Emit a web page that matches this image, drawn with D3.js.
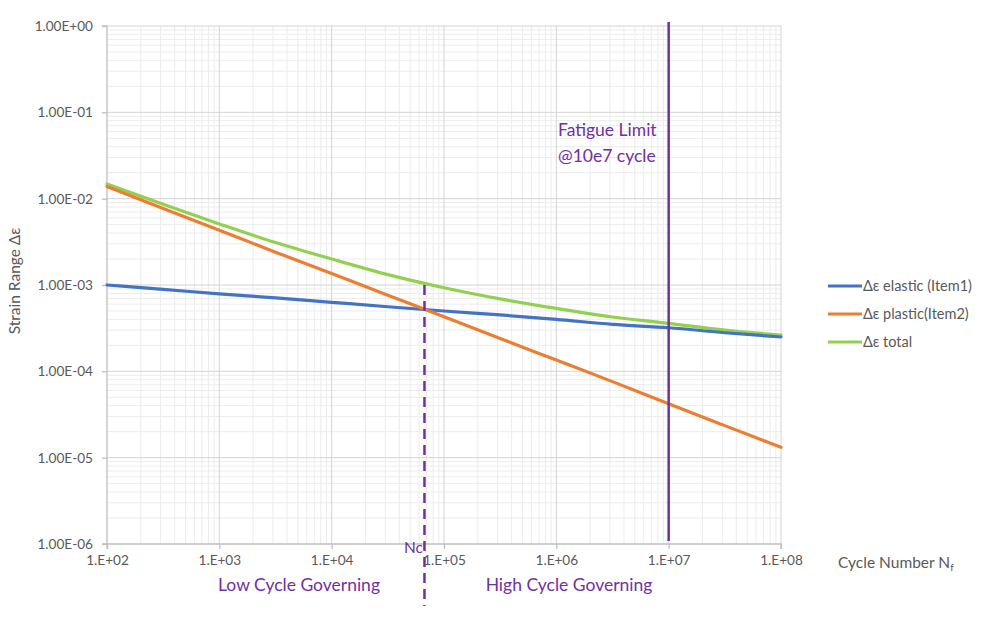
<!DOCTYPE html>
<html><head><meta charset="utf-8">
<script src="https://cdnjs.cloudflare.com/ajax/libs/d3/7.8.5/d3.min.js"></script>
<style>body{margin:0;background:#fff}svg{display:block}</style>
</head><body>
<svg id="c" width="992" height="618"></svg>
<script>
// Data
const cycles = [1e2, 3.16e2, 1e3, 3.16e3, 1e4, 3.16e4, 1e5, 3.16e5, 1e6, 3.16e6, 1e7, 3.16e7, 1e8];
const elastic = [1.0e-3, 8.9e-4, 7.9e-4, 7.1e-4, 6.3e-4, 5.6e-4, 5.0e-4, 4.5e-4, 4.0e-4, 3.5e-4, 3.2e-4, 2.8e-4, 2.5e-4];
const plastic = [1.38e-2, 7.7e-3, 4.3e-3, 2.4e-3, 1.36e-3, 7.6e-4, 4.3e-4, 2.4e-4, 1.35e-4, 7.6e-5, 4.2e-5, 2.35e-5, 1.32e-5];
const total = [1.48e-2, 8.6e-3, 5.1e-3, 3.1e-3, 2.0e-3, 1.32e-3, 9.3e-4, 6.9e-4, 5.35e-4, 4.26e-4, 3.6e-4, 3.0e-4, 2.63e-4];
const seriesNames = ["Δε elastic (Item1)", "Δε plastic(Item2)", "Δε total"];
const seriesColors = ["#4472C4", "#ED7D31", "#92D050"];
const xTicks = [1e2, 1e3, 1e4, 1e5, 1e6, 1e7, 1e8];
const xTickLabels = ["1.E+02", "1.E+03", "1.E+04", "1.E+05", "1.E+06", "1.E+07", "1.E+08"];
const yTicks = [1e0, 1e-1, 1e-2, 1e-3, 1e-4, 1e-5, 1e-6];
const yTickLabels = ["1.00E+00", "1.00E-01", "1.00E-02", "1.00E-03", "1.00E-04", "1.00E-05", "1.00E-06"];
const Nc = 6.7e4;
const NcStrain = 1e-3;
const fatigueN = 1e7;

(function () {
const svg = d3.select("#c");
const font = "Lato, 'Open Sans', sans-serif";
const pl = 107, pr = 781, pt = 26, pb = 544;
const x = d3.scaleLog().domain([1e2, 1e8]).range([pl, pr]);
const y = d3.scaleLog().domain([1e-6, 1e0]).range([pb, pt]);

// minor grid
const minorX = [], minorY = [];
for (let d = 2; d < 8; d++) for (let m = 2; m <= 9; m++) minorX.push(m * Math.pow(10, d));
for (let d = -6; d < 0; d++) for (let m = 2; m <= 9; m++) minorY.push(m * Math.pow(10, d));
const g = svg.append("g");
g.selectAll(".mx").data(minorX).join("line")
  .attr("x1", d => x(d)).attr("x2", d => x(d)).attr("y1", pt).attr("y2", pb)
  .attr("stroke", "#ececec").attr("stroke-width", 1);
g.selectAll(".my").data(minorY).join("line")
  .attr("y1", d => y(d)).attr("y2", d => y(d)).attr("x1", pl).attr("x2", pr)
  .attr("stroke", "#ececec").attr("stroke-width", 1);
// major grid
g.selectAll(".Mx").data(xTicks.slice(1)).join("line")
  .attr("x1", d => x(d)).attr("x2", d => x(d)).attr("y1", pt).attr("y2", pb)
  .attr("stroke", "#d4d4d4").attr("stroke-width", 1);
g.selectAll(".My").data(yTicks.slice(0, -1)).join("line")
  .attr("y1", d => y(d)).attr("y2", d => y(d)).attr("x1", pl).attr("x2", pr)
  .attr("stroke", "#d4d4d4").attr("stroke-width", 1);

// axes
const xAxis = d3.axisBottom(x).tickValues(xTicks).tickFormat((d, i) => xTickLabels[i]).tickSize(5).tickPadding(4);
const yAxis = d3.axisLeft(y).tickValues(yTicks).tickFormat((d, i) => yTickLabels[i]).tickSize(5).tickPadding(9);
const gx = svg.append("g").attr("transform", `translate(0,${pb})`).call(xAxis);
const gy = svg.append("g").attr("transform", `translate(${pl},0)`).call(yAxis);
[gx, gy].forEach(a => {
  a.select(".domain").attr("stroke", "#bfbfbf").attr("stroke-width", 1.3);
  a.selectAll(".tick line").attr("stroke", "#bfbfbf").attr("stroke-width", 1.3);
  a.selectAll(".tick text").attr("fill", "#595959").attr("font-family", font).attr("font-size", 13.6);
});
gy.select(".domain").attr("d", `M-5,${pt}H0V${pb}H-5`);
gx.select(".domain").attr("d", `M${pl},5V0H${pr}V5`);
gx.selectAll(".tick text").attr("dy", "0.85em");

// series
const line = d3.line().x(d => x(d[0])).y(d => y(d[1])).curve(d3.curveMonotoneX);
const series = [elastic, plastic, total];
const order = [2, 0, 1];
order.forEach(i => {
  svg.append("path").datum(cycles.map((c, k) => [c, series[i][k]]))
    .attr("d", line).attr("fill", "none").attr("stroke", seriesColors[i])
    .attr("stroke-width", 3.2).attr("stroke-linecap", "round");
});

// vertical lines
const purple = "#7030A0";
svg.append("line").attr("x1", x(fatigueN)).attr("x2", x(fatigueN))
  .attr("y1", y(1e0) - 4).attr("y2", y(1e-6) - 3)
  .attr("stroke", purple).attr("stroke-width", 2.5);
svg.append("line").attr("x1", x(Nc)).attr("x2", x(Nc))
  .attr("y1", y(NcStrain)).attr("y2", y(1e-6) + 62)
  .attr("stroke", purple).attr("stroke-width", 2.5).attr("stroke-dasharray", "10,6");

// annotations
const ann = (t, tx, ty, size, anchor) => svg.append("text").attr("x", tx).attr("y", ty)
  .attr("fill", purple).attr("font-family", font).attr("font-size", size)
  .attr("text-anchor", anchor || "start").text(t);
ann("Fatigue Limit", 558, 136, 17.5);
ann("@10e7 cycle", 558, 162, 17.5);
ann("Nc", 404, 553, 15.5);
ann("Low Cycle Governing", 299, 591, 17.5, "middle");
ann("High Cycle Governing", 569, 591, 17.5, "middle");

// axis titles
svg.append("text").attr("transform", "translate(20,281) rotate(-90)")
  .attr("text-anchor", "middle").attr("fill", "#595959").attr("font-family", font)
  .attr("font-size", 15.5).text("Strain Range Δε");
const ct = svg.append("text").attr("x", 838).attr("y", 568).attr("fill", "#595959")
  .attr("font-family", font).attr("font-size", 15.5);
ct.append("tspan").text("Cycle Number N");
ct.append("tspan").attr("font-size", 10).attr("dy", 3).text("f");

// legend
const leg = svg.append("g").attr("transform", "translate(828,286)");
seriesNames.forEach((n, i) => {
  const r = leg.append("g").attr("transform", `translate(0,${i * 28})`);
  r.append("line").attr("x1", 0).attr("x2", 34).attr("stroke", seriesColors[i]).attr("stroke-width", 3.2);
  r.append("text").attr("x", 35).attr("y", 5).attr("fill", "#595959")
    .attr("font-family", font).attr("font-size", 14.5).text(n);
});
})();
</script>
</body></html>
